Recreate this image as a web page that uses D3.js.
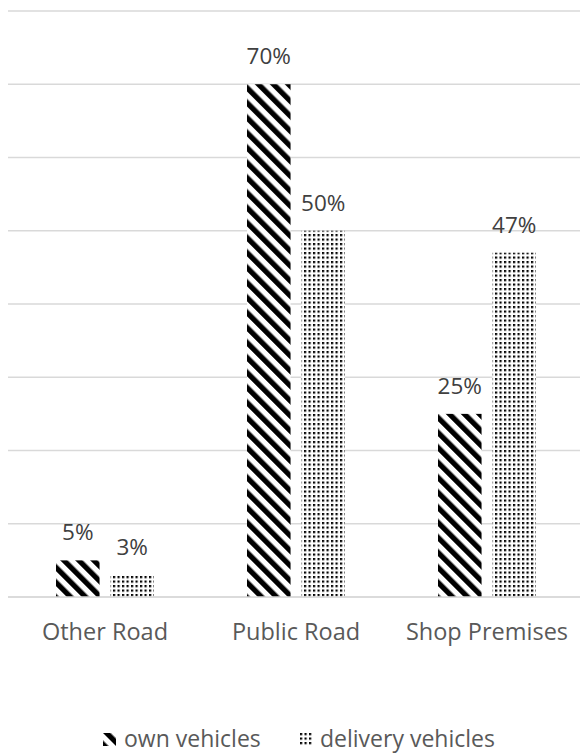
<!DOCTYPE html>
<html>
<head>
<meta charset="utf-8">
<script src="https://cdn.jsdelivr.net/npm/d3@7/dist/d3.min.js"></script>
<style>
	body { margin:0; background:#fff; }
	svg { display:block; font-family:"Open Sans", sans-serif; }
</style>
</head>
<body>
<svg id="svg" width="580" height="756"></svg>
<script>
// chart data
const categories = ["Other Road", "Public Road", "Shop Premises"];
const seriesNames = ["own vehicles", "delivery vehicles"];
const ownValues = [5, 70, 25];
const deliveryValues = [3, 50, 47];
const gridTicks = [0, 10, 20, 30, 40, 50, 60, 70, 80];

const dims = { width: 580, height: 756 };
const margins = { left: 9.5, right: -2.5, top: 11, bottom: 159 };

let svg = d3.select("#svg");

// patterns
let defs = svg.append("defs");
let stripe = defs.append("pattern")
	.attr("id", "stripe")
	.attr("patternUnits", "userSpaceOnUse")
	.attr("width", 10.6).attr("height", 10.6)
	.attr("patternTransform", "rotate(-45)");
stripe.append("rect").attr("width", 10.6).attr("height", 10.6).attr("fill", "#fff");
stripe.append("rect").attr("x", 0).attr("width", 5.3).attr("height", 10.6).attr("fill", "#000");

let dots = defs.append("pattern")
	.attr("id", "dots")
	.attr("patternUnits", "userSpaceOnUse")
	.attr("width", 4.5).attr("height", 4.5);
dots.append("rect").attr("width", 4.5).attr("height", 4.5).attr("fill", "#fff");
dots.append("rect").attr("width", 2.2).attr("height", 2.2).attr("fill", "#000");

const fills = ["url(#stripe)", "url(#dots)"];

let xScale = d3.scaleBand()
	.domain(categories)
	.range([margins.left, dims.width - margins.right]);
let xInner = d3.scaleBand()
	.domain(seriesNames)
	.range([xScale.bandwidth() / 2 - 49, xScale.bandwidth() / 2 + 49])
	.paddingInner(0.2);
let yScale = d3.scaleLinear()
	.domain([0, 80])
	.range([dims.height - margins.bottom, margins.top]);

// gridlines
svg.append("g").selectAll("line")
	.data(gridTicks)
	.enter().append("line")
	.attr("x1", 8)
	.attr("x2", dims.width)
	.attr("y1", d => yScale(d))
	.attr("y2", d => yScale(d))
	.attr("stroke", "#d9d9d9")
	.attr("stroke-width", 1.5);

let rows = categories.map((c, i) => ({ cat: c, vals: [ownValues[i], deliveryValues[i]] }));

let groups = svg.append("g").selectAll("g")
	.data(rows)
	.enter().append("g")
	.attr("transform", d => `translate(${xScale(d.cat)},0)`);

groups.selectAll("rect")
	.data(d => d.vals.map((v, j) => ({ s: seriesNames[j], v: v, j: j })))
	.enter().append("rect")
	.attr("x", d => xInner(d.s))
	.attr("width", xInner.bandwidth())
	.attr("y", d => yScale(d.v))
	.attr("height", d => yScale(0) - yScale(d.v))
	.attr("fill", d => fills[d.j]);

groups.selectAll("text")
	.data(d => d.vals.map((v, j) => ({ s: seriesNames[j], v: v })))
	.enter().append("text")
	.attr("x", d => xInner(d.s) + xInner.bandwidth() / 2)
	.attr("y", d => yScale(d.v) - 20)
	.attr("text-anchor", "middle")
	.attr("font-size", 22.5)
	.attr("fill", "#404040")
	.text(d => d.v + "%");

// baseline redraw over bars
svg.append("line")
	.attr("x1", 8).attr("x2", dims.width)
	.attr("y1", yScale(0)).attr("y2", yScale(0))
	.attr("stroke", "#d9d9d9").attr("stroke-width", 1.5);

// category axis
let xAxis = d3.axisBottom(xScale).tickSize(0).tickPadding(0);
let axisG = svg.append("g")
	.attr("transform", `translate(0, 640)`)
	.call(xAxis);
axisG.select(".domain").remove();
axisG.selectAll("text")
	.attr("y", 0).attr("dy", 0)
	.attr("font-size", 23.5)
	.attr("font-family", "Open Sans, sans-serif")
	.attr("fill", "#595959");

// legend
const legendX = [103, 300];
let legend = svg.append("g").selectAll("g")
	.data(seriesNames)
	.enter().append("g")
	.attr("transform", (d, i) => `translate(${legendX[i]}, 733)`);
legend.append("rect")
	.attr("width", 13).attr("height", 13)
	.attr("fill", (d, i) => fills[i]);
legend.append("text")
	.attr("x", (d, i) => i == 0 ? 21 : 20).attr("y", 14)
	.attr("font-size", 23)
	.attr("fill", "#595959")
	.text(d => d);
</script>
</body>
</html>
